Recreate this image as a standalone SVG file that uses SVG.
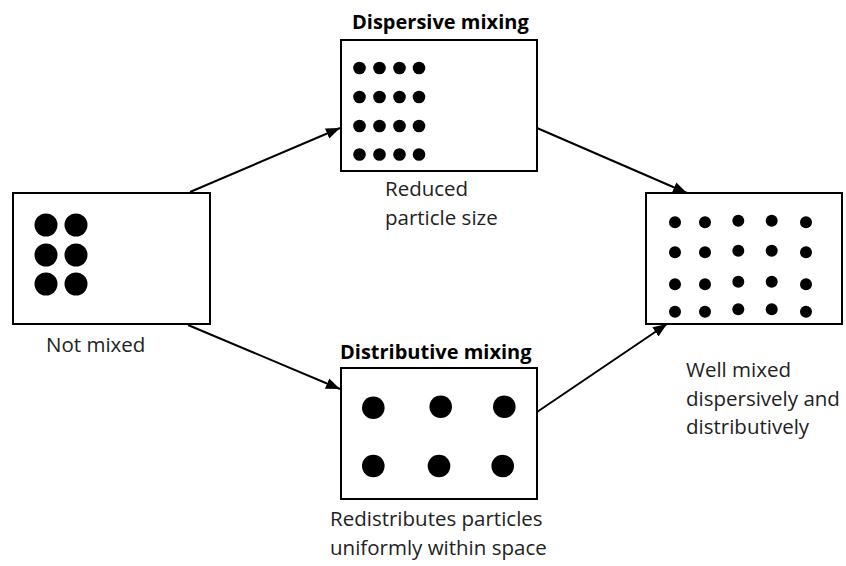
<svg xmlns="http://www.w3.org/2000/svg" width="846" height="566" viewBox="0 0 846 566">
  <defs>
    <style>
      .box { fill: #fff; stroke: #000; stroke-width: 2; }
      .dot { fill: #000; }
      .conn { stroke: #000; stroke-width: 2; fill: none; marker-end: url(#arrow); }
      .lbl { font-family: "Open Sans", "DejaVu Sans", sans-serif; font-size: 20.5px; fill: #222; }
      .ttl { font-family: "Open Sans", "DejaVu Sans", sans-serif; font-size: 20px; font-weight: bold; fill: #000; }
    </style>
    <marker id="arrow" markerUnits="userSpaceOnUse" markerWidth="15" markerHeight="12" refX="14" refY="6" orient="auto">
      <path d="M0,0.5 L14,6 L0,11.5 z" fill="#000"/>
    </marker>
  </defs>
  <rect width="846" height="566" fill="#fff"/>

  <g id="connectors">
    <line class="conn" x1="190" y1="192" x2="340" y2="128"/>
    <line class="conn" x1="188" y1="325" x2="340" y2="389"/>
    <line class="conn" x1="537" y1="128" x2="687" y2="193"/>
    <line class="conn" x1="537" y1="412" x2="667" y2="324"/>
  </g>

  <g id="not-mixed">
    <rect class="box" x="13" y="193" width="197" height="131"/>
    <circle class="dot" cx="46" cy="225" r="11.5"/>
    <circle class="dot" cx="76" cy="225" r="11.5"/>
    <circle class="dot" cx="46" cy="255" r="11.5"/>
    <circle class="dot" cx="76" cy="255" r="11.5"/>
    <circle class="dot" cx="46" cy="284" r="11.5"/>
    <circle class="dot" cx="76" cy="284" r="11.5"/>
    <text class="lbl" x="46" y="352">Not mixed</text>
  </g>

  <g id="dispersive">
    <text class="ttl" x="352" y="29">Dispersive mixing</text>
    <rect class="box" x="341" y="40" width="196" height="131"/>
    <g class="dot">
      <circle cx="359.5" cy="68" r="6.3"/><circle cx="379.5" cy="68" r="6.3"/><circle cx="399.5" cy="68" r="6.3"/><circle cx="419" cy="68" r="6.3"/>
      <circle cx="359.5" cy="97" r="6.3"/><circle cx="379.5" cy="97" r="6.3"/><circle cx="399.5" cy="97" r="6.3"/><circle cx="419" cy="97" r="6.3"/>
      <circle cx="359.5" cy="126" r="6.3"/><circle cx="379.5" cy="126" r="6.3"/><circle cx="399.5" cy="126" r="6.3"/><circle cx="419" cy="126" r="6.3"/>
      <circle cx="359.5" cy="154.5" r="6.3"/><circle cx="379.5" cy="154.5" r="6.3"/><circle cx="399.5" cy="154.5" r="6.3"/><circle cx="419" cy="154.5" r="6.3"/>
    </g>
    <text class="lbl" x="385" y="196"><tspan x="385">Reduced</tspan><tspan x="385" dy="28.5">particle size</tspan></text>
  </g>

  <g id="distributive">
    <text class="ttl" x="340" y="359">Distributive mixing</text>
    <rect class="box" x="341" y="368" width="196" height="131"/>
    <g class="dot">
      <circle cx="373.3" cy="407.7" r="11.3"/><circle cx="440.7" cy="406.7" r="11.3"/><circle cx="504.3" cy="406.7" r="11.3"/>
      <circle cx="373.3" cy="466" r="11.3"/><circle cx="439" cy="466" r="11.3"/><circle cx="502.7" cy="466" r="11.3"/>
    </g>
    <text class="lbl" x="330" y="526"><tspan x="330">Redistributes particles</tspan><tspan x="330" dy="28.5">uniformly within space</tspan></text>
  </g>

  <g id="well-mixed">
    <rect class="box" x="646" y="193" width="196" height="131"/>
    <g class="dot">
      <circle cx="675" cy="222.3" r="6"/><circle cx="705" cy="222.3" r="6"/><circle cx="738.3" cy="220.7" r="6"/><circle cx="771.7" cy="220.7" r="6"/><circle cx="806" cy="222.3" r="6"/>
      <circle cx="675" cy="252.3" r="6"/><circle cx="705" cy="252.3" r="6"/><circle cx="738.3" cy="250.7" r="6"/><circle cx="771.7" cy="250.7" r="6"/><circle cx="806" cy="252.3" r="6"/>
      <circle cx="675" cy="284.3" r="6"/><circle cx="705" cy="284.3" r="6"/><circle cx="738.3" cy="281.7" r="6"/><circle cx="771.7" cy="281.7" r="6"/><circle cx="806" cy="284.3" r="6"/>
      <circle cx="675" cy="311.7" r="6"/><circle cx="705" cy="311.7" r="6"/><circle cx="738.3" cy="309.3" r="6"/><circle cx="771.7" cy="309.3" r="6"/><circle cx="806" cy="311.7" r="6"/>
    </g>
    <text class="lbl" x="686" y="377"><tspan x="686">Well mixed</tspan><tspan x="686" dy="28.5">dispersively and</tspan><tspan x="686" dy="28">distributively</tspan></text>
  </g>
</svg>
